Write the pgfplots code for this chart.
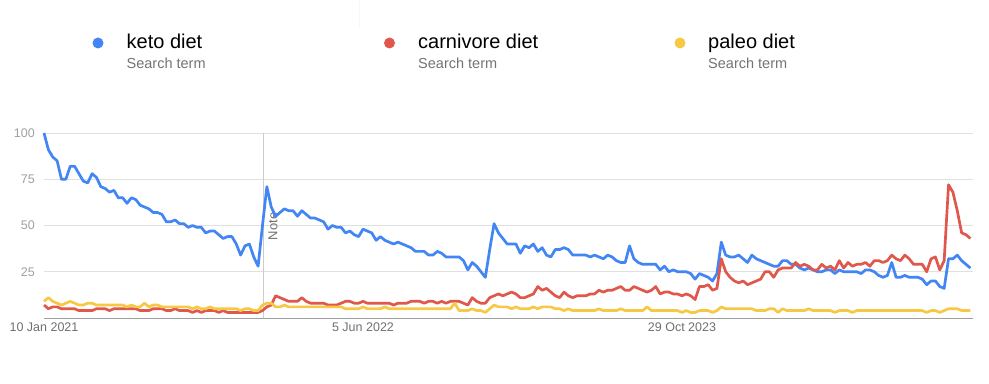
\documentclass[border=0pt]{standalone}
\usepackage{pgfplots}
\usepackage{pgfplotstable}
\pgfplotsset{compat=1.18}
\usepackage{fontspec}
\setmainfont{Liberation Sans}
\definecolor{kblue}{HTML}{4285F4}
\definecolor{cred}{HTML}{E0574B}
\definecolor{pyel}{HTML}{F7C844}
\definecolor{gridc}{HTML}{E0E0E0}
\definecolor{axisc}{HTML}{9E9E9E}
\definecolor{notec}{HTML}{CCCCCC}
\definecolor{ylab}{HTML}{A0A0A0}
\definecolor{xlab}{HTML}{707070}
\definecolor{subc}{HTML}{70757A}
\pgfplotstableread{
w k c p
0 100 7 9
1 91 5 11
2 87 6 9
3 85 6 8
4 75 5 7
5 75 5 8
6 82 5 9
7 82 5 8
8 78 4 7
9 74 4 7
10 73 4 8
11 78 4 8
12 76 5 7
13 71 5 7
14 70 5 7
15 68 4 7
16 69 5 7
17 65 5 7
18 65 5 7
19 62 5 6
20 65 5 7
21 64 5 6
22 61 4 6
23 60 4 8
24 59 4 6
25 57 5 7
26 57 5 7
27 56 5 6
28 52 4 6
29 52 4 6
30 53 5 6
31 51 4 6
32 51 4 6
33 49 4 6
34 50 3 5
35 49 4 6
36 49 3 5
37 46 4 5
38 47 4 6
39 47 4 5
40 45 3 5
41 43 4 5
42 44 3 5
43 44 3 5
44 40 3 5
45 34 3 4
46 39 3 5
47 40 3 5
48 33 3 4
49 28 3 4
50 50 4 7
51 71 6 8
52 60 7 8
53 55 12 6
54 57 11 6
55 59 10 7
56 58 9 6
57 58 9 6
58 55 9 6
59 58 11 6
60 56 9 6
61 54 8 6
62 54 8 6
63 53 8 6
64 52 8 6
65 48 7 6
66 50 7 6
67 49 7 6
68 49 8 6
69 46 9 5
70 47 9 5
71 45 8 5
72 44 8 5
73 48 9 6
74 47 8 5
75 46 8 5
76 42 8 5
77 44 8 5
78 42 8 6
79 41 8 5
80 40 7 5
81 41 8 5
82 40 8 5
83 39 8 5
84 38 9 5
85 36 9 5
86 36 9 5
87 36 8 5
88 34 9 5
89 34 9 5
90 36 8 5
91 35 9 5
92 33 8 5
93 33 9 5
94 33 9 8
95 33 9 4
96 31 8 4
97 26 7 4
98 30 11 5
99 28 9 4
100 25 8 4
101 22 8 3
102 37 11 5
103 51 12 7
104 46 13 6
105 43 12 6
106 40 13 6
107 40 14 5
108 40 13 6
109 35 11 5
110 39 11 5
111 38 12 5
112 40 13 6
113 36 17 5
114 38 15 6
115 34 16 6
116 33 14 6
117 37 12 5
118 37 11 5
119 38 14 4
120 37 12 5
121 34 11 4
122 34 12 4
123 34 12 4
124 34 12 4
125 33 13 4
126 34 13 4
127 33 15 5
128 32 14 4
129 34 15 4
130 33 15 4
131 31 16 4
132 30 17 5
133 30 15 4
134 39 15 4
135 32 17 4
136 30 16 4
137 29 15 4
138 29 14 6
139 29 15 4
140 29 17 4
141 26 13 4
142 28 14 4
143 25 14 4
144 26 13 4
145 25 13 4
146 25 12 3
147 25 13 4
148 24 12 3
149 21 10 3
150 24 17 4
151 23 17 4
152 22 18 4
153 20 15 3
154 24 16 4
155 41 32 6
156 34 25 5
157 33 22 5
158 33 20 5
159 34 19 5
160 32 20 5
161 30 18 5
162 34 19 5
163 32 20 4
164 31 21 4
165 30 25 4
166 29 25 5
167 28 22 5
168 28 26 3
169 31 27 5
170 31 27 4
171 29 27 4
172 29 30 4
173 27 28 4
174 26 29 4
175 27 28 5
176 26 26 4
177 25 26 4
178 25 29 4
179 26 27 4
180 26 28 4
181 24 26 3
182 26 31 4
183 25 27 4
184 25 30 4
185 25 28 3
186 25 29 4
187 24 29 4
188 26 30 4
189 26 28 4
190 25 31 4
191 23 31 4
192 22 30 4
193 23 31 4
194 30 34 4
195 22 32 4
196 22 31 4
197 23 34 4
198 22 32 4
199 22 29 4
200 22 29 4
201 21 29 4
202 18 25 3
203 20 32 4
204 20 33 4
205 17 26 3
206 16 31 4
207 32 72 5
208 32 68 5
209 34 58 5
210 31 46 4
211 29 45 4
212 27 43 4
}\trends
\begin{document}
\begin{tikzpicture}
\useasboundingbox[fill=white] (0,0) rectangle (989bp,384bp);
\draw[color=gray!6, line width=0.8bp] (359bp,384bp) -- (359bp,356bp);
\begin{axis}[
  at={(44bp,66bp)}, anchor=south west,
  scale only axis, width=929bp, height=185bp,
  xmin=0, xmax=212.6, ymin=0, ymax=100,
  axis line style={draw=none},
  clip=false,
  ymajorgrids, grid style={color=gridc, line width=0.8bp},
  major tick length=0pt,
  xtick={0,73,146},
  xticklabels={10 Jan 2021, 5 Jun 2022, 29 Oct 2023},
  ytick={25,50,75,100},
  yticklabels={25,50,75,100},
  /pgf/number format/assume math mode=true,
  xticklabel style={anchor=north, inner sep=0pt, yshift=-5bp, font=\fontsize{12.5bp}{14bp}\selectfont, text=xlab},
  yticklabel style={anchor=east, inner sep=0pt, xshift=-9bp, font=\fontsize{12.5bp}{14bp}\selectfont, text=ylab},
]
\draw[color=notec, line width=0.8bp] (axis cs:50.2,0) -- (axis cs:50.2,100);
\node[rotate=90, text=xlab, font=\fontsize{13bp}{15bp}\selectfont, inner sep=0pt] at (axis cs:52.4,49.5) {Note};
\draw[color=axisc, line width=1bp] (rel axis cs:0,0) -- (rel axis cs:1,0);
\addplot[kblue, line width=2.7bp, line join=round, no marks] table[x=w, y=k] {\trends};
\addplot[cred, line width=2.7bp, line join=round, no marks] table[x=w, y=c] {\trends};
\addplot[pyel, line width=2.7bp, line join=round, no marks] table[x=w, y=p] {\trends};
\end{axis}
% legend
\fill[kblue] (98bp,341bp) circle (5.5bp);
\node[anchor=base west, inner sep=0pt, font=\fontsize{20bp}{24bp}\selectfont] at (126.5bp,335.7bp) {keto diet};
\node[anchor=base west, inner sep=0pt, text=subc, font=\fontsize{14.5bp}{17bp}\selectfont] at (126.5bp,315.7bp) {Search term};
\fill[cred] (389.5bp,341bp) circle (5.5bp);
\node[anchor=base west, inner sep=0pt, font=\fontsize{20bp}{24bp}\selectfont] at (418bp,335.7bp) {carnivore diet};
\node[anchor=base west, inner sep=0pt, text=subc, font=\fontsize{14.5bp}{17bp}\selectfont] at (418bp,315.7bp) {Search term};
\fill[pyel] (680bp,341bp) circle (5.5bp);
\node[anchor=base west, inner sep=0pt, font=\fontsize{20bp}{24bp}\selectfont] at (708bp,335.7bp) {paleo diet};
\node[anchor=base west, inner sep=0pt, text=subc, font=\fontsize{14.5bp}{17bp}\selectfont] at (708bp,315.7bp) {Search term};
\end{tikzpicture}
\end{document}
